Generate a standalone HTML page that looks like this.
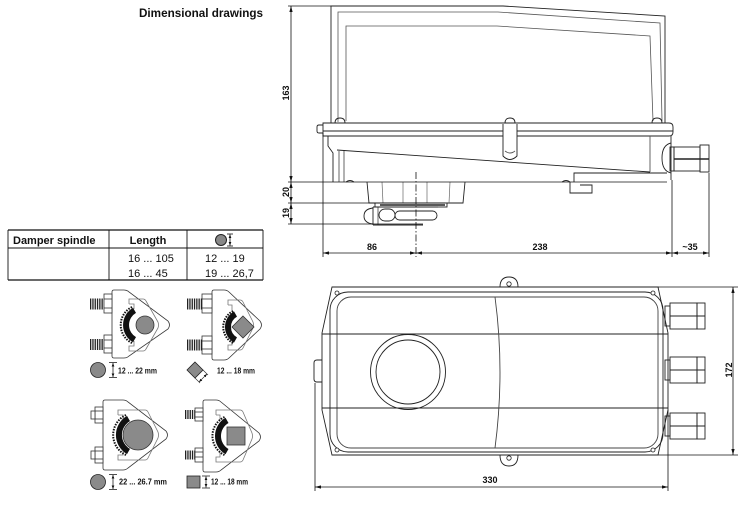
<!DOCTYPE html>
<html>
<head>
<meta charset="utf-8">
<style>
html,body{margin:0;padding:0;background:#fff;}
svg{display:block;}
text{font-family:"Liberation Sans",Arial,sans-serif;}
</style>
</head>
<body>
<svg width="749" height="509" viewBox="0 0 749 509" xmlns="http://www.w3.org/2000/svg">
<defs>
<marker id="a" viewBox="0 0 10 10" refX="10" refY="5" markerWidth="6" markerHeight="3.6" preserveAspectRatio="none" orient="auto-start-reverse" markerUnits="userSpaceOnUse">
<path d="M0,0.5 L10,5 L0,9.5 z" fill="#111"/>
</marker>
<marker id="s" viewBox="0 0 10 10" refX="10" refY="5" markerWidth="3.5" markerHeight="3" preserveAspectRatio="none" orient="auto-start-reverse" markerUnits="userSpaceOnUse">
<path d="M0,0.5 L10,5 L0,9.5 z" fill="#111"/>
</marker>
</defs>
<rect width="749" height="509" fill="#fff"/>

<!-- Title -->
<text x="139" y="17" font-size="12" font-weight="bold" textLength="124" lengthAdjust="spacingAndGlyphs" fill="#111">Dimensional drawings</text>

<!-- Table -->
<g stroke="#111" fill="none">
<line x1="8" y1="230" x2="263" y2="230" stroke-width="1.2"/>
<line x1="8" y1="248" x2="263" y2="248" stroke-width="0.9"/>
<line x1="8" y1="280" x2="263" y2="280" stroke-width="1.2"/>
<line x1="8" y1="230" x2="8" y2="280" stroke-width="0.9"/>
<line x1="109" y1="230" x2="109" y2="280" stroke-width="0.9"/>
<line x1="187" y1="230" x2="187" y2="280" stroke-width="0.9"/>
<line x1="263" y1="230" x2="263" y2="280" stroke-width="0.9"/>
</g>
<text x="13" y="244" font-size="11" font-weight="bold" fill="#111">Damper spindle</text>
<text x="148" y="244" font-size="11" font-weight="bold" fill="#111" text-anchor="middle">Length</text>
<circle cx="221" cy="240" r="5.5" fill="#888" stroke="#222" stroke-width="1"/>
<g stroke="#111" stroke-width="0.8">
<line x1="230" y1="234.5" x2="230" y2="245.5" marker-start="url(#s)" marker-end="url(#s)"/>
<line x1="227" y1="234" x2="233" y2="234"/>
<line x1="227" y1="246" x2="233" y2="246"/>
</g>
<text x="128" y="262" font-size="11" fill="#111">16 ... 105</text>
<text x="128" y="277" font-size="11" fill="#111">16 ... 45</text>
<text x="205" y="262" font-size="11" fill="#111">12 ... 19</text>
<text x="205" y="277" font-size="11" fill="#111">19 ... 26,7</text>

<!-- ================= SIDE VIEW ================= -->
<g fill="none" stroke="#222" stroke-width="0.9">
<!-- cover -->
<path d="M331,123 V6 H503 L665,16 V123"/>
<path d="M338,122 V12 H498 L660,23 L662,121" stroke="#555" stroke-width="0.8"/>
<path d="M346,121 V26 H497 L650,36 L653,121" stroke="#555" stroke-width="0.8"/>
<!-- screws on flange -->
<path d="M335,123 Q335,118 340,118 Q345,118 345,123"/>
<path d="M505,123 Q505,118 510,118 Q515,118 515,123"/>
<path d="M652,123 Q652,118 657,118 Q662,118 662,123"/>
<!-- flange -->
<path d="M323,123 H669 Q673,123 673,127 V132 Q673,136 669,136 H323 Z" fill="#fff"/>
<path d="M323,125 H319 Q317,125 317,127 V131 Q317,133 319,133 H323"/>
<line x1="323" y1="131" x2="673" y2="131"/>
<!-- lower body -->
<path d="M328,136 V146 L333,153 V182"/>
<line x1="339" y1="151" x2="339" y2="182" stroke="#555"/>
<line x1="344" y1="150" x2="344" y2="182" stroke="#555"/>
<line x1="337" y1="150" x2="650" y2="172"/>
<line x1="650" y1="136" x2="650" y2="172" stroke="#555"/>
<path d="M671,136 V180"/>
<path d="M574,182 V173 H667"/>
<path d="M570,182 V193 H592 V185 H580"/>
<path d="M346,182 Q350,179 354,182"/>
<path d="M562,182 Q566,179 570,182"/>
<!-- center post -->
<path d="M503,124 V156 Q510,163 517,156 V124" fill="#fff"/>
<path d="M505,151 Q510,155 515,151" stroke="#555"/>
<!-- bulge and cable gland -->
<path d="M671,143 Q662,145 662,158 Q662,171 671,173"/>
<rect x="670" y="147" width="4" height="24"/>
<rect x="674" y="147" width="26" height="24"/>
<rect x="700" y="145" width="9" height="27"/>
<line x1="674" y1="159" x2="709" y2="159" stroke-width="1.5"/>
<!-- hub -->
<path d="M367,182 L369,203 H463 L465,182"/>
<g stroke="#666" stroke-width="0.7">
<line x1="382" y1="182" x2="383" y2="203"/>
<line x1="403" y1="182" x2="403" y2="203"/>
<line x1="427" y1="182" x2="427" y2="203"/>
<line x1="450" y1="182" x2="449" y2="203"/>
</g>
<rect x="375" y="203" width="72" height="4" fill="#fff"/>
<line x1="380" y1="205" x2="445" y2="205" stroke-width="1.6"/>
<!-- clamp side -->
<path d="M373,208 Q364,209 364,216 Q364,223 373,224"/>
<line x1="373" y1="207" x2="373" y2="225"/>
<line x1="378" y1="207" x2="378" y2="225" stroke="#555"/>
<line x1="373" y1="207" x2="438" y2="207"/>
<line x1="373" y1="225" x2="423" y2="225"/>
<rect x="379" y="209" width="16" height="12" rx="6"/>
<rect x="395" y="211" width="42" height="9" rx="4.5"/>
</g>

<!-- side view dimensions -->
<g stroke="#111" stroke-width="0.8" fill="none">
<line x1="288" y1="6" x2="331" y2="6"/>
<line x1="288" y1="182" x2="333" y2="182"/>
<line x1="333" y1="182" x2="667" y2="182"/>
<line x1="288" y1="203" x2="445" y2="203"/>
<line x1="288" y1="224" x2="423" y2="224"/>
<line x1="291" y1="6" x2="291" y2="182" marker-start="url(#a)" marker-end="url(#a)"/>
<line x1="291" y1="182" x2="291" y2="203" marker-start="url(#a)" marker-end="url(#a)"/>
<line x1="291" y1="203" x2="291" y2="224" marker-start="url(#a)" marker-end="url(#a)"/>
<line x1="323" y1="133" x2="323" y2="257"/>
<line x1="672" y1="180" x2="672" y2="257"/>
<line x1="709" y1="173" x2="709" y2="257"/>
<line x1="416" y1="172" x2="416" y2="257" stroke-dasharray="7,2,1.5,2"/>
<line x1="323" y1="253" x2="416" y2="253" marker-start="url(#a)" marker-end="url(#a)"/>
<line x1="416" y1="253" x2="672" y2="253" marker-start="url(#a)" marker-end="url(#a)"/>
<line x1="672" y1="253" x2="709" y2="253" marker-start="url(#a)" marker-end="url(#a)"/>
</g>
<g font-size="9" font-weight="bold" fill="#111" text-anchor="middle">
<text transform="translate(289,93) rotate(-90)">163</text>
<text transform="translate(289,192) rotate(-90)">20</text>
<text transform="translate(289,213) rotate(-90)">19</text>
<text x="372" y="250">86</text>
<text x="540" y="250">238</text>
<text x="690" y="250">~35</text>
</g>

<!-- ================= BOTTOM VIEW ================= -->
<g fill="none" stroke="#222" stroke-width="0.9">
<path d="M500,287 Q500,277 509,277 Q518,277 518,287"/>
<path d="M500,455 Q500,466 509,466 Q518,466 518,455"/>
<path d="M322,360 H317 Q314,360 314,363 V379 Q314,382 317,382 H322"/>
<path d="M332,287 H658 L668,333 V410 L658,455 H332 L322,410 V333 Z"/>
<rect x="330" y="292" width="333" height="160" rx="18"/>
<rect x="337" y="297" width="321" height="151" rx="14" stroke="#444"/>
<line x1="322" y1="334" x2="668" y2="334"/>
<line x1="322" y1="408" x2="668" y2="408"/>
<path d="M495,297 Q505,372 495,448" stroke="#444"/>
<circle cx="408" cy="372" r="37.5"/>
<circle cx="408" cy="372" r="32"/>
<!-- glands -->
<g>
<rect x="665" y="306" width="5" height="20"/>
<rect x="670" y="303" width="27" height="26"/>
<rect x="697" y="303" width="8" height="26"/>
<line x1="670" y1="316" x2="705" y2="316"/>
<rect x="665" y="360" width="5" height="20"/>
<rect x="670" y="357" width="27" height="26"/>
<rect x="697" y="357" width="8" height="26"/>
<line x1="670" y1="370" x2="705" y2="370"/>
<rect x="665" y="416" width="5" height="20"/>
<rect x="670" y="413" width="27" height="26"/>
<rect x="697" y="413" width="8" height="26"/>
<line x1="670" y1="426" x2="705" y2="426"/>
</g>
</g>
<g fill="#fff" stroke="#222" stroke-width="0.8">
<circle cx="509" cy="284" r="2.2"/>
<circle cx="509" cy="458" r="2.2"/>
<circle cx="337" cy="293" r="2"/>
<circle cx="653" cy="293" r="2"/>
<circle cx="337" cy="450" r="2"/>
<circle cx="653" cy="450" r="2"/>
</g>
<!-- bottom view dimensions -->
<g stroke="#111" stroke-width="0.8" fill="none">
<line x1="658" y1="287" x2="738" y2="287"/>
<line x1="658" y1="455" x2="738" y2="455"/>
<line x1="733" y1="287" x2="733" y2="455" marker-start="url(#a)" marker-end="url(#a)"/>
<line x1="315" y1="383" x2="315" y2="491"/>
<line x1="668" y1="410" x2="668" y2="491"/>
<line x1="315" y1="487" x2="668" y2="487" marker-start="url(#a)" marker-end="url(#a)"/>
</g>
<g font-size="9" font-weight="bold" fill="#111" text-anchor="middle">
<text transform="translate(732,370) rotate(-90)">172</text>
<text x="490" y="483">330</text>
</g>

<!-- ================= CLAMPS ================= -->
<!-- TL clamp -->
<g stroke="#333" stroke-width="0.8">
<path d="M114,290 H124 Q127,290 129,292 L168,321 Q171,325 168,329 L129,356 Q127,358 124,358 H114 Q112,358 112,356 V292 Q112,290 114,290 Z" fill="#fff"/>
<path d="M129,304 V299 H143 Q145,299 146,301 L158,322 Q159,325 158,328 L146,349 Q145,351 143,351 H129 V346 H134 V341 M134,309 V304 H129" fill="none" stroke="#777"/>
<path d="M134.5,310.3 A17,17 0 0 0 134.5,339.7" fill="none" stroke="#111" stroke-width="6"/>
<path d="M132,307 A20,20 0 0 0 132,343" fill="none" stroke="#111" stroke-width="2" stroke-dasharray="1.5,1.2"/>
<circle cx="145" cy="325" r="9" fill="#8a8a8a"/>
<rect x="104" y="294" width="8" height="19" fill="#fff"/>
<line x1="104" y1="299" x2="112" y2="299"/><line x1="104" y1="308" x2="112" y2="308"/>
<rect x="104" y="335" width="8" height="18" fill="#fff"/>
<line x1="104" y1="340" x2="112" y2="340"/><line x1="104" y1="348" x2="112" y2="348"/>
<line x1="90" y1="304" x2="104" y2="304" stroke="#222" stroke-width="11" stroke-dasharray="1.3,1"/>
<line x1="90" y1="344.5" x2="104" y2="344.5" stroke="#222" stroke-width="11" stroke-dasharray="1.3,1"/>
</g>
<!-- TR clamp -->
<g stroke="#333" stroke-width="0.8">
<path d="M214,290 H224 Q227,290 229,292 L260,321 Q263,325 260,329 L229,358 Q227,360 224,360 H214 Q212,360 212,358 V292 Q212,290 214,290 Z" fill="#fff"/>
<path d="M228,305 V300 H240 Q242,300 243,302 L253,322 Q254,325 253,328 L243,348 Q242,350 240,350 H228 V345 H232 V340 M232,310 V305 H228" fill="none" stroke="#777"/>
<path d="M235.5,314 A15,15 0 0 0 235.5,340" fill="none" stroke="#111" stroke-width="6"/>
<path d="M233,311 A18,18 0 0 0 233,343" fill="none" stroke="#111" stroke-width="2" stroke-dasharray="1.5,1.2"/>
<polygon points="243,316 254,327 243,338 232,327" fill="#8a8a8a"/>
<rect x="202" y="294" width="10" height="19" fill="#fff"/>
<line x1="202" y1="299" x2="212" y2="299"/><line x1="202" y1="308" x2="212" y2="308"/>
<rect x="202" y="336" width="10" height="18" fill="#fff"/>
<line x1="202" y1="341" x2="212" y2="341"/><line x1="202" y1="349" x2="212" y2="349"/>
<line x1="187" y1="304" x2="202" y2="304" stroke="#222" stroke-width="11" stroke-dasharray="1.3,1"/>
<line x1="187" y1="345" x2="202" y2="345" stroke="#222" stroke-width="11" stroke-dasharray="1.3,1"/>
</g>
<!-- BL clamp -->
<g stroke="#333" stroke-width="0.8">
<path d="M105,400 H123 Q126,400 128,402 L166,431 Q169,435 166,439 L128,468 Q126,470 123,470 H105 Q103,470 103,468 V402 Q103,400 105,400 Z" fill="#fff"/>
<path d="M118,415 V410 H145 Q147,410 148,412 L158,432 Q159,435 158,438 L148,458 Q147,460 145,460 H118 V455 H123 V450 M123,420 V415 H118" fill="none" stroke="#777"/>
<path d="M128.5,418.5 A19,19 0 0 0 128.5,451.5" fill="none" stroke="#111" stroke-width="6"/>
<path d="M126,415 A22,22 0 0 0 126,455" fill="none" stroke="#111" stroke-width="2" stroke-dasharray="1.5,1.2"/>
<circle cx="138" cy="435" r="15" fill="#8a8a8a"/>
<rect x="95" y="407" width="8" height="16" fill="#fff"/>
<rect x="91" y="411" width="4" height="8" fill="#fff"/>
<line x1="95" y1="411" x2="103" y2="411"/><line x1="95" y1="419" x2="103" y2="419"/>
<rect x="95" y="447" width="8" height="16" fill="#fff"/>
<rect x="91" y="451" width="4" height="8" fill="#fff"/>
<line x1="95" y1="451" x2="103" y2="451"/><line x1="95" y1="459" x2="103" y2="459"/>
</g>
<!-- BR clamp -->
<g stroke="#333" stroke-width="0.8">
<path d="M205,400 H216 Q219,400 221,402 L259,433 Q262,437 259,441 L221,470 Q219,472 216,472 H205 Q203,472 203,470 V402 Q203,400 205,400 Z" fill="#fff"/>
<path d="M216,415 V410 H240 Q242,410 243,412 L252,433 Q253,436 252,439 L243,460 Q242,462 240,462 H216 V457 H220 V452 M220,420 V415 H216" fill="none" stroke="#777"/>
<path d="M227,420.4 A18,18 0 0 0 227,451.6" fill="none" stroke="#111" stroke-width="6"/>
<path d="M224.5,417 A21,21 0 0 0 224.5,455" fill="none" stroke="#111" stroke-width="2" stroke-dasharray="1.5,1.2"/>
<rect x="227" y="427" width="18" height="18" fill="#8a8a8a"/>
<rect x="195" y="408" width="8" height="13" fill="#fff"/>
<line x1="195" y1="412" x2="203" y2="412"/><line x1="195" y1="417" x2="203" y2="417"/>
<rect x="195" y="448" width="8" height="14" fill="#fff"/>
<line x1="195" y1="452" x2="203" y2="452"/><line x1="195" y1="457" x2="203" y2="457"/>
<line x1="185" y1="414.5" x2="195" y2="414.5" stroke="#222" stroke-width="9" stroke-dasharray="1.3,1"/>
<line x1="185" y1="455" x2="195" y2="455" stroke="#222" stroke-width="9" stroke-dasharray="1.3,1"/>
</g>

<!-- clamp labels -->
<g stroke="#222" stroke-width="0.8">
<circle cx="98" cy="370" r="7.5" fill="#8a8a8a"/>
<line x1="113" y1="363" x2="113" y2="377" marker-start="url(#s)" marker-end="url(#s)"/>
<line x1="109" y1="362.5" x2="117" y2="362.5"/>
<line x1="109" y1="377.5" x2="117" y2="377.5"/>
<polygon points="195,362 203,370 195,378 187,370" fill="#8a8a8a"/>
<line x1="203" y1="370" x2="208" y2="375" stroke-width="0.6"/>
<line x1="195" y1="378" x2="200" y2="383" stroke-width="0.6"/>
<line x1="207" y1="374" x2="199" y2="382" marker-start="url(#s)" marker-end="url(#s)" stroke-width="0.6"/>
<circle cx="98" cy="482" r="7.5" fill="#8a8a8a"/>
<line x1="113" y1="475" x2="113" y2="489" marker-start="url(#s)" marker-end="url(#s)"/>
<line x1="109" y1="474.5" x2="117" y2="474.5"/>
<line x1="109" y1="489.5" x2="117" y2="489.5"/>
<rect x="187" y="476" width="13" height="12" fill="#8a8a8a"/>
<line x1="206" y1="476.5" x2="206" y2="487.5" marker-start="url(#s)" marker-end="url(#s)"/>
<line x1="202" y1="476" x2="210" y2="476"/>
<line x1="202" y1="488" x2="210" y2="488"/>
</g>
<g font-size="8.5" font-weight="bold" fill="#111">
<text x="118" y="373.5" textLength="39" lengthAdjust="spacingAndGlyphs">12 ... 22 mm</text>
<text x="217" y="373.5" textLength="38" lengthAdjust="spacingAndGlyphs">12 ... 18 mm</text>
<text x="119" y="484.5" textLength="48" lengthAdjust="spacingAndGlyphs">22 ... 26.7 mm</text>
<text x="211" y="484.5" textLength="37" lengthAdjust="spacingAndGlyphs">12 ... 18 mm</text>
</g>
</svg>
</body>
</html>
